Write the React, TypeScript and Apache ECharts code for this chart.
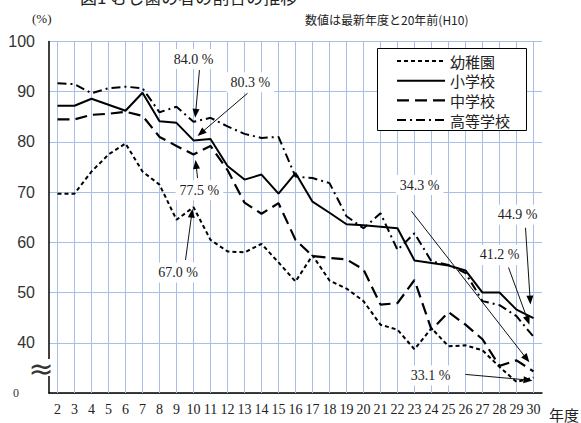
import React, { useEffect, useRef } from 'react';
import * as echarts from 'echarts';

const categories = ['2', '3', '4', '5', '6', '7', '8', '9', '10', '11', '12', '13', '14', '15', '16', '17', '18', '19', '20', '21', '22', '23', '24', '25', '26', '27', '28', '29', '30'];

const kindergarten = [69.7, 69.7, 74.1, 77.5, 79.7, 74.1, 71.5, 64.5, 67.0, 60.5, 58.2, 58.0, 59.7, 56.0, 52.2, 57.4, 52.4, 50.8, 48.3, 43.6, 42.6, 38.7, 42.9, 39.3, 39.5, 38.5, 35.2, 32.2, 33.1];
const elementary = [87.2, 87.2, 88.6, 87.4, 86.2, 89.8, 84.1, 83.8, 80.3, 80.6, 75.2, 72.5, 73.5, 69.7, 73.8, 68.1, 65.9, 63.6, 63.4, 63.1, 62.8, 56.4, 55.9, 55.4, 54.4, 50.0, 50.0, 46.6, 44.9];
const middle = [84.5, 84.5, 85.4, 85.6, 86.0, 85.2, 81.0, 79.2, 77.5, 79.2, 74.4, 67.9, 65.7, 67.8, 60.5, 57.3, 56.9, 56.6, 54.6, 47.6, 47.9, 52.5, 42.6, 46.1, 43.6, 40.7, 35.4, 36.5, 34.3];
const high = [91.7, 91.5, 89.7, 90.7, 91.0, 90.7, 85.9, 87.0, 84.0, 84.8, 83.1, 81.6, 80.8, 81.0, 73.1, 72.8, 71.8, 65.2, 62.8, 65.8, 58.5, 61.8, 56.2, 55.5, 53.9, 48.3, 47.5, 45.3, 41.2];

const seriesNames = ['幼稚園', '小学校', '中学校', '高等学校'];
const seriesValues = [kindergarten, elementary, middle, high];

// annotation: label position, arrow start, arrow end in (category number, value) space
const annotations = [
  { text: '84.0 %', label: [10.0, 96.5], from: [10.35, 94.3], to: [10.1, 84.8] },
  { text: '80.3 %', label: [13.35, 91.9], from: [13.18, 89.7], to: [10.24, 81.2] },
  { text: '77.5 %', label: [10.35, 70.4], from: [10.24, 72.8], to: [10.12, 76.4] },
  { text: '67.0 %', label: [9.1, 54.0], from: [9.53, 56.5], to: [9.94, 66.7] },
  { text: '34.3 %', label: [23.3, 71.4], from: [22.82, 66.2], to: [29.76, 36.1] },
  { text: '33.1 %', label: [23.94, 33.5], from: [26.0, 33.7], to: [29.94, 32.5] },
  { text: '41.2 %', label: [28.0, 57.5], from: [28.53, 55.0], to: [29.76, 43.6] },
  { text: '44.9 %', label: [29.06, 65.5], from: [29.53, 62.9], to: [29.82, 47.6] },
];

const GRID_COLOR = '#a9bee4';
const SERIF = '"Liberation Serif", "DejaVu Serif", serif';
const CJK = '"Noto Sans CJK JP", "Noto Sans", sans-serif';
const DASHES: any[] = [[4, 3], null, [12, 6], [9, 4, 2, 4]];
const WIDTHS = [2, 2, 2.2, 2];

export default function App() {
  const ref = useRef<HTMLDivElement>(null);
  useEffect(() => {
    const chart = echarts.init(ref.current!, null, { renderer: 'svg' });
    chart.setOption({
      animation: false,
      backgroundColor: '#fff',
      grid: { left: 49, right: 39, top: 41.5, bottom: 30 },
      xAxis: {
        type: 'category',
        data: categories,
        boundaryGap: true,
        axisLine: { lineStyle: { color: '#000', width: 1.5 } },
        axisTick: { show: false },
        axisLabel: { interval: 0, margin: 9, fontSize: 14, fontFamily: SERIF, color: '#222' },
        splitLine: { show: false },
      },
      yAxis: {
        type: 'value',
        min: 30,
        max: 100,
        interval: 10,
        axisLine: { show: true, lineStyle: { color: '#000', width: 1.5 } },
        axisTick: { show: false },
        axisLabel: {
          margin: 14,
          fontSize: 16,
          fontFamily: '"Liberation Sans", Arial, sans-serif',
          color: '#333',
          formatter: (v: number) => (v === 30 ? '{s|0}' : String(v)),
          rich: { s: { fontSize: 12, fontFamily: SERIF, color: '#333', padding: [0, 16, 0, 0] } },
        },
        splitLine: { show: true, lineStyle: { color: GRID_COLOR, width: 1 } },
      },
      series: [
        {
          name: 'grid',
          type: 'line',
          data: [],
          z: 1,
          markLine: {
            silent: true,
            z: 1,
            symbol: ['none', 'none'],
            label: { show: false },
            lineStyle: { color: GRID_COLOR, width: 1, type: 'solid' },
            emphasis: { disabled: true },
            data: categories.map((c) => ({ xAxis: c })),
          },
        },
        ...seriesNames.map((name, k) => ({
          name,
          type: 'line',
          data: seriesValues[k],
          symbol: 'none',
          z: 3,
          lineStyle: { color: '#000', width: WIDTHS[k], type: DASHES[k] || 'solid' },
          itemStyle: { color: '#000' },
        })),
      ],
    });

    const toPx = (c: number, v: number) => {
      const f = c - 2;
      const i = Math.max(0, Math.min(Math.floor(f), categories.length - 2));
      const t = f - i;
      const p0 = chart.convertToPixel({ gridIndex: 0 }, [i, v]) as number[];
      const p1 = chart.convertToPixel({ gridIndex: 0 }, [i + 1, v]) as number[];
      return [p0[0] + t * (p1[0] - p0[0]), p0[1]];
    };

    const graphics: any[] = [];
    annotations.forEach((a) => {
      const s = toPx(a.from[0], a.from[1]);
      const e = toPx(a.to[0], a.to[1]);
      const dx = e[0] - s[0];
      const dy = e[1] - s[1];
      const len = Math.sqrt(dx * dx + dy * dy);
      const ux = dx / len;
      const uy = dy / len;
      const hl = 9;
      const hw = 3.5;
      const bx = e[0] - ux * hl;
      const by = e[1] - uy * hl;
      graphics.push({
        type: 'line',
        z: 20,
        shape: { x1: s[0], y1: s[1], x2: bx + ux, y2: by + uy },
        style: { stroke: '#111', lineWidth: 1 },
      });
      graphics.push({
        type: 'polygon',
        z: 20,
        shape: { points: [[e[0], e[1]], [bx - uy * hw, by + ux * hw], [bx + uy * hw, by - ux * hw]] },
        style: { fill: '#000' },
      });
      const l = toPx(a.label[0], a.label[1]);
      graphics.push({
        type: 'text',
        z: 21,
        x: l[0],
        y: l[1],
        style: {
          text: a.text,
          fontSize: 14,
          fontFamily: SERIF,
          fill: '#222',
          align: 'center',
          verticalAlign: 'middle',
          backgroundColor: '#fff',
          padding: [3, 4],
        },
      });
    });

    // legend box (drawn with the series' own line styles)
    graphics.push({
      type: 'rect', z: 24,
      shape: { x: 377.5, y: 48.5, width: 149, height: 82 },
      style: { fill: '#fff', stroke: '#000', lineWidth: 1 },
    });
    seriesNames.forEach((name, k) => {
      const y = 61 + k * 19.7;
      graphics.push({
        type: 'line', z: 25,
        shape: { x1: 397, y1: y, x2: 445, y2: y },
        style: { stroke: '#000', lineWidth: WIDTHS[k], lineDash: DASHES[k] || undefined },
      });
      graphics.push({
        type: 'text', z: 25, x: 450, y,
        style: { text: name, fontSize: 15, fontFamily: CJK, fill: '#222', verticalAlign: 'middle' },
      });
    });

    // axis break mark
    graphics.push({ type: 'rect', z: 22, shape: { x: 44, y: 359, width: 10, height: 17 }, style: { fill: '#fff' } });
    graphics.push({
      type: 'text', z: 23, x: 41, y: 368,
      style: { text: '≈', fontSize: 30, fontFamily: '"DejaVu Sans", sans-serif', fill: '#333', align: 'center', verticalAlign: 'middle' },
    });
    // texts
    graphics.push({
      type: 'text', z: 23, x: 80, y: -12,
      style: { text: '図1 むし歯の者の割合の推移', fontSize: 17, fontFamily: CJK, fill: '#222', verticalAlign: 'top' },
    });
    graphics.push({
      type: 'text', z: 23, x: 32, y: 18,
      style: { text: '(%)', fontSize: 13, fontFamily: SERIF, fill: '#222', verticalAlign: 'middle' },
    });
    graphics.push({
      type: 'text', z: 23, x: 305, y: 19,
      style: { text: '数値は最新年度と20年前(H10)', fontSize: 12, fontFamily: CJK, fill: '#222', verticalAlign: 'middle' },
    });
    graphics.push({
      type: 'text', z: 23, x: 549, y: 414,
      style: { text: '年度', fontSize: 15, fontFamily: CJK, fill: '#222', verticalAlign: 'middle' },
    });

    chart.setOption({ graphic: graphics });
    return () => chart.dispose();
  }, []);
  return <div ref={ref} style={{ position: 'fixed', left: 0, top: 0, width: 581, height: 423 }} />;
}
